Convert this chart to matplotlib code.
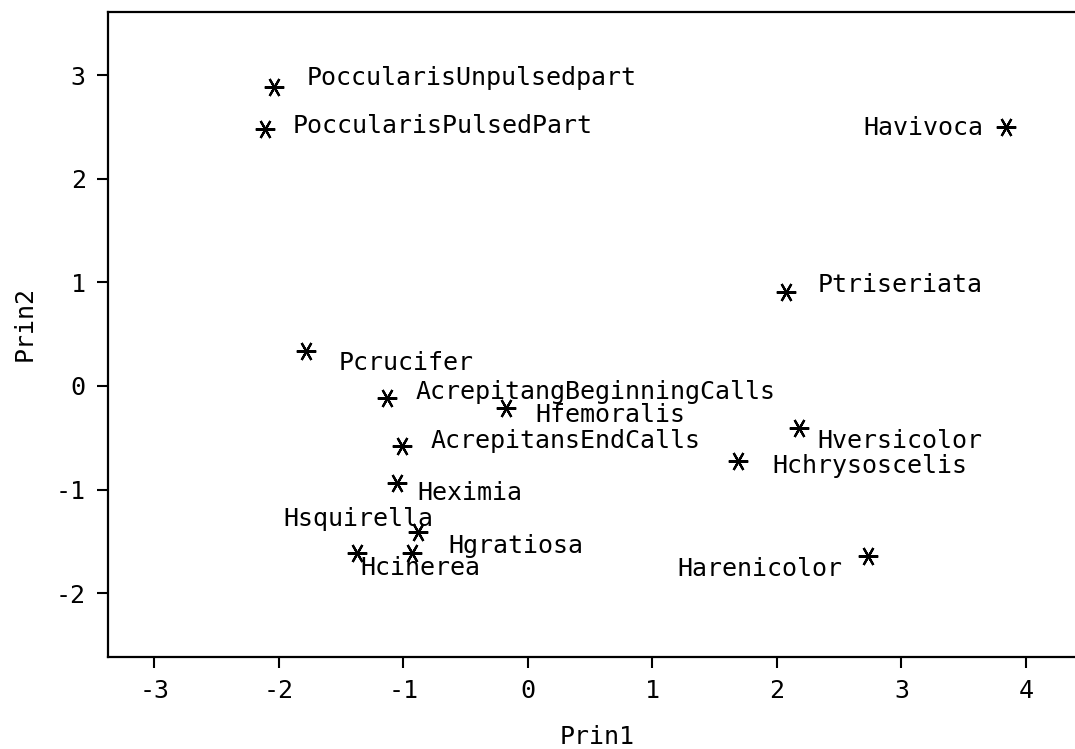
import matplotlib
matplotlib.use('Agg')
import matplotlib.pyplot as plt

# principal component scores for each call type
names = ['PoccularisUnpulsedpart', 'PoccularisPulsedPart', 'Havivoca',
         'Ptriseriata', 'Pcrucifer', 'AcrepitangBeginningCalls',
         'Hfemoralis', 'AcrepitansEndCalls', 'Hversicolor',
         'Hchrysoscelis', 'Harenicolor', 'Heximia', 'Hsquirella',
         'Hgratiosa', 'Hcinerea']
prin1 = [-2.04, -2.11, 3.84, 2.07, -1.78, -1.13, -0.18, -1.01, 2.18,
         1.69, 2.73, -1.05, -0.88, -0.93, -1.37]
prin2 = [2.89, 2.48, 2.50, 0.91, 0.34, -0.12, -0.21, -0.58, -0.41,
         -0.72, -1.64, -0.94, -1.41, -1.61, -1.61]

xticks = [-3, -2, -1, 0, 1, 2, 3, 4]
yticks = [-2, -1, 0, 1, 2, 3]

# label placement (pixel offset from the point, alignment)
label_pos = [(33, 9, 'left'), (27, 3, 'left'), (-23, -1, 'right'),
             (32, 7, 'left'), (32, -12, 'left'), (28, 6, 'left'),
             (30, -7, 'left'), (28, 5, 'left'), (18, -13, 'left'),
             (34, -5, 'left'), (-25, -13, 'right'), (20, -10, 'left'),
             (15, 13, 'right'), (36, 7, 'left'), (3, -15, 'left')]

font = 'DejaVu Sans Mono'
fsize = 18

fig = plt.figure(figsize=(10.75, 7.49), dpi=100)
ax = fig.add_axes([108/1075, 92/749, 967/1075, 645/749])

# six-armed star with a horizontal bar, like the SAS '*' symbol
ax.plot(prin1, prin2, linestyle='none', marker=(6, 2, 30), markersize=14,
        markeredgewidth=1.6, color='black')

for i in range(len(names)):
    dx, dy, ha = label_pos[i]
    ax.annotate(names[i], (prin1[i], prin2[i]), xytext=(dx, dy),
                textcoords='offset pixels', ha=ha, va='center',
                family=font, fontsize=fsize, color='black')

ax.set_xlim(-3.373, 4.394)
ax.set_ylim(-2.616, 3.610)
ax.set_xticks(xticks)
ax.set_yticks(yticks)
ax.set_xticklabels([str(t) for t in xticks], family=font, fontsize=fsize)
ax.set_yticklabels([str(t) for t in yticks], family=font, fontsize=fsize)
ax.tick_params(direction='out', length=8, width=1.5, pad=8)

ax.spines['right'].set_visible(False)
for s in ['left', 'top', 'bottom']:
    ax.spines[s].set_linewidth(1.6)

fig.text(597/1075, 1 - 737/749, 'Prin1', ha='center', va='center',
         family=font, fontsize=fsize)
fig.text(25/1075, 1 - 323/749, 'Prin2', ha='center', va='center',
         rotation=90, family=font, fontsize=fsize)

fig.savefig('out.png', dpi=100)
